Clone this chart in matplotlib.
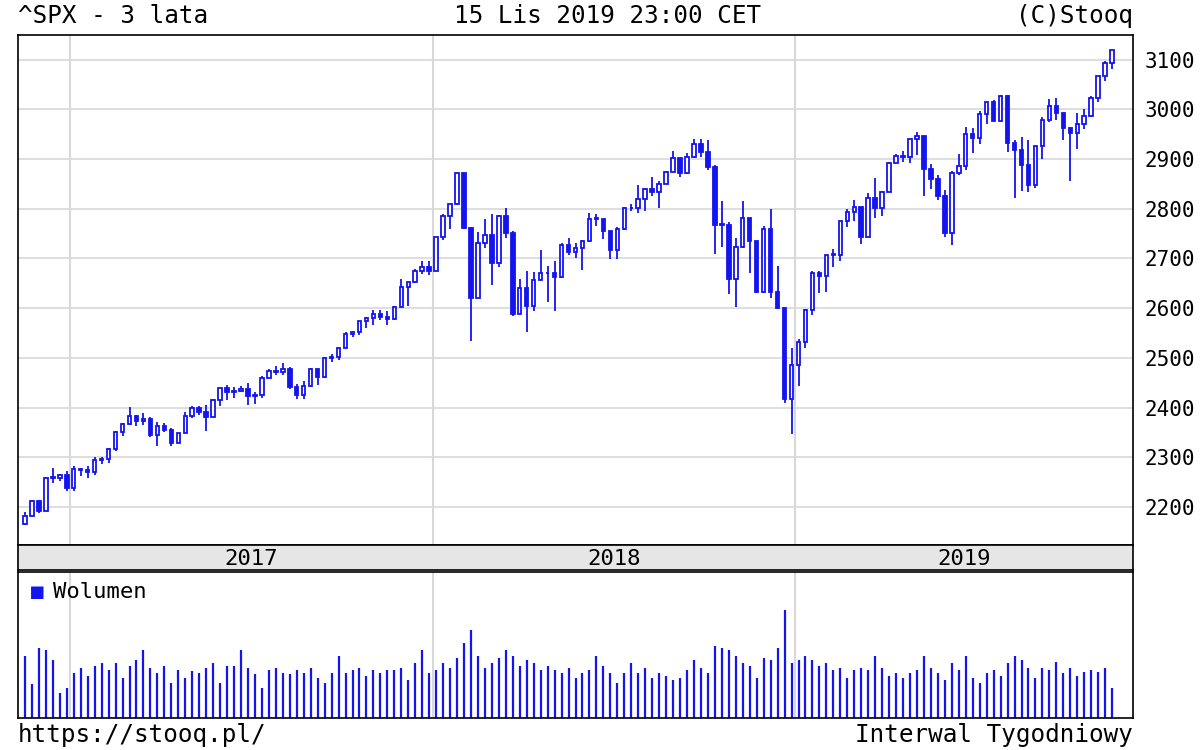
import matplotlib
matplotlib.use("Agg")
import matplotlib.pyplot as plt
import numpy as np

closes = [2182,2213,2192,2259,2258,2264,2239,
2277,2275,2271,2295,2297,2316,2351,2367,2383,2373,2378,2344,2363,2355,2329,2349,2384,2399,2391,2382,2416,2439,2432,2433,2438,2423,2425,2459,2473,2472,2477,2441,2426,2443,2477,2461,2500,2502,2519,2549,2553,2575,2581,2588,2582,2579,2602,2642,2652,2675,2683,2674,
2743,2786,2810,2873,2762,2620,2732,2747,2691,2786,2752,2588,2641,2604,2656,2670,2670,2663,2728,2713,2721,2735,2779,2780,2755,2718,2760,2801,2802,2819,2840,2833,2850,2875,2902,2872,2905,2930,2914,2885,2767,2768,2659,2723,2781,2736,2633,2760,2633,2600,2417,2486,
2532,2596,2671,2665,2707,2708,2776,2793,2804,2743,2822,2801,2834,2893,2907,2905,2940,2946,2881,2860,2826,2752,2873,2887,2950,2942,2990,3014,2977,3026,2932,2919,2889,2847,2926,2979,3007,2992,2962,2952,2970,2986,3023,3067,3093,3120]

opens = [2165,2182,2213,2192,2259,2258,2264,
2239,2277,2275,2271,2295,2297,2316,2351,2367,2383,2373,2378,2344,2363,2355,2329,2349,2384,2399,2391,2382,2416,2439,2432,2433,2438,2423,2425,2459,2473,2472,2477,2441,2426,2443,2477,2461,2500,2502,2519,2549,2553,2575,2581,2588,2582,2579,2602,2642,2652,2675,2683,
2674,2743,2786,2810,2873,2762,2620,2732,2747,2691,2786,2752,2588,2641,2604,2656,2670,2670,2663,2728,2713,2721,2735,2779,2780,2755,2718,2760,2801,2802,2819,2840,2833,2850,2875,2902,2872,2905,2930,2914,2885,2767,2768,2659,2723,2781,2736,2633,2760,2633,2600,2417,
2486,2532,2596,2671,2665,2707,2708,2776,2793,2804,2743,2822,2801,2834,2893,2907,2905,2940,2946,2881,2860,2826,2752,2873,2887,2950,2942,2990,3014,2977,3026,2932,2919,2889,2847,2926,2979,3007,2992,2962,2952,2970,2986,3023,3067,3093]

highs = [2189,2214,2214,2260,2278,2267,2273,
2282,2279,2282,2300,2300,2319,2352,2368,2401,2386,2390,2382,2370,2369,2358,2349,2391,2404,2404,2406,2418,2440,2446,2441,2443,2450,2431,2463,2477,2484,2490,2481,2448,2453,2480,2477,2501,2508,2520,2552,2555,2575,2582,2597,2597,2595,2605,2658,2652,2679,2695,2695,
2743,2790,2808,2873,2872,2764,2754,2780,2790,2787,2802,2755,2659,2675,2673,2718,2684,2694,2732,2742,2732,2737,2791,2790,2764,2746,2763,2804,2809,2848,2842,2864,2856,2876,2916,2903,2912,2941,2940,2939,2888,2816,2773,2741,2815,2775,2699,2765,2800,2685,2598,2520,
2538,2598,2675,2674,2708,2720,2776,2800,2817,2804,2831,2861,2836,2894,2910,2917,2940,2955,2931,2891,2868,2838,2876,2911,2964,2962,2996,3014,3018,3028,3028,2938,2944,2939,2927,2985,3021,3022,2987,2964,2993,3000,3027,3067,3097,3120]

lows = [2164,2181,2188,2191,2248,2253,2233,
2233,2262,2258,2264,2287,2289,2313,2342,2364,2363,2365,2341,2322,2351,2322,2328,2349,2379,2385,2353,2382,2403,2415,2419,2431,2405,2407,2420,2459,2465,2466,2437,2418,2417,2442,2446,2459,2492,2496,2519,2542,2546,2560,2566,2576,2566,2577,2602,2605,2650,2669,2667,
2682,2737,2759,2808,2759,2533,2622,2722,2647,2682,2741,2585,2594,2553,2594,2657,2612,2594,2660,2707,2701,2676,2734,2766,2740,2698,2698,2757,2795,2792,2796,2825,2802,2849,2876,2864,2871,2903,2904,2878,2710,2724,2628,2603,2722,2670,2631,2631,2621,2598,2409,2346,
2443,2519,2586,2631,2633,2682,2695,2764,2775,2729,2743,2781,2786,2834,2892,2894,2893,2909,2825,2840,2818,2744,2728,2868,2878,2912,2930,2970,2976,2977,2914,2822,2836,2834,2842,2900,2975,2978,2938,2855,2920,2960,2984,3015,3058,3082]

volumes = [62,34,70,68,58,25,30,
45,50,42,52,55,48,55,40,52,58,68,50,45,52,35,48,40,47,45,50,55,35,52,52,68,50,44,30,48,50,45,44,48,45,50,40,35,45,62,45,48,50,42,48,45,48,48,50,38,55,68,45,
48,55,50,60,75,88,62,50,55,60,68,62,52,58,55,48,52,48,45,50,40,45,48,62,52,45,35,45,55,45,50,40,45,42,38,40,48,58,50,45,72,70,68,62,55,52,40,60,58,70,108,55,
58,62,58,52,55,48,50,40,48,50,48,62,50,42,45,40,45,48,62,50,45,38,55,48,62,40,35,45,48,42,55,62,58,50,40,50,48,56,45,50,42,46,48,46,50,30]

years = ["2017", "2018", "2019"]
year_starts = [6.5, 58.5, 110.5]
price_ticks = [2200,2300,2400,2500,2600,2700,2800,2900,3000,3100]

n = len(closes)
assert len(opens) == n and len(highs) == n and len(lows) == n and len(volumes) == n

BLUE = "#1414f0"
GRID = "#d8d8d8"
MONO = "DejaVu Sans Mono"
W, H = 1200, 750
fig = plt.figure(figsize=(12, 7.5), dpi=100)

def fx(px): return px / W
def fy(py): return 1 - py / H

x = np.arange(n)
xl = (-1.0, 159.0)

ax = fig.add_axes([fx(18), fy(545), fx(1133 - 18), (545 - 35) / H])
ax.set_xlim(*xl)
ax.set_ylim(2123.5, 3149.7)
for yv in price_ticks:
    ax.axhline(yv, color=GRID, lw=1.2, zorder=0)
for xs in year_starts:
    ax.axvline(xs, color=GRID, lw=1.5, zorder=0)
ax.vlines(x, lows, highs, color=BLUE, lw=1.3, zorder=2)
o = np.array(opens); c = np.array(closes)
bottoms = np.minimum(o, c); heights = np.maximum(np.abs(c - o), 1.5)
up = c >= o
ax.bar(x[up], heights[up], bottom=bottoms[up], width=0.5, facecolor="white", edgecolor=BLUE, lw=1.3, zorder=3)
ax.bar(x[~up], heights[~up], bottom=bottoms[~up], width=0.5, facecolor=BLUE, edgecolor=BLUE, lw=1.3, zorder=3)
ax.yaxis.tick_right()
ax.set_yticks(price_ticks)
ax.set_yticklabels([str(v) for v in price_ticks], fontfamily=MONO, fontsize=15)
ax.tick_params(axis="y", length=0, pad=8)
ax.set_xticks([])
for s in ax.spines.values():
    s.set_color("black"); s.set_linewidth(1.2)

bx = fig.add_axes([fx(18), fy(570), fx(1133 - 18), 25 / H])
bx.set_xlim(*xl); bx.set_ylim(0, 1)
bx.set_facecolor("#e6e6e6")
bx.set_xticks([]); bx.set_yticks([])
ends = year_starts[1:] + [xl[1]]
for yr, s0, s1 in zip(years, year_starts, ends):
    bx.text((s0 + s1) / 2, 0.45, yr, ha="center", va="center", fontfamily=MONO, fontsize=16)
for s in bx.spines.values():
    s.set_color("black"); s.set_linewidth(1.2)

vx = fig.add_axes([fx(18), fy(718), fx(1133 - 18), (718 - 572) / H])
vx.set_xlim(*xl); vx.set_ylim(0, 146)
for xs in year_starts:
    vx.axvline(xs, color=GRID, lw=1.5, zorder=0)
vx.vlines(x, 0, volumes, color=BLUE, lw=1.6, zorder=2)
vx.set_xticks([]); vx.set_yticks([])
for s in vx.spines.values():
    s.set_color("black"); s.set_linewidth(1.2)
vx.text(0.012, 0.86, "■", transform=vx.transAxes, color=BLUE, fontsize=15, va="center", ha="left", fontfamily=MONO)
vx.text(0.031, 0.86, "Wolumen", transform=vx.transAxes, fontsize=16, va="center", ha="left", fontfamily=MONO)

fig.text(fx(18), fy(16), "^SPX - 3 lata", fontfamily=MONO, fontsize=17.5, va="center", ha="left")
fig.text(fx(608), fy(16), "15 Lis 2019 23:00 CET", fontfamily=MONO, fontsize=17.5, va="center", ha="center")
fig.text(fx(1133), fy(16), "(C)Stooq", fontfamily=MONO, fontsize=17.5, va="center", ha="right")
fig.text(fx(18), fy(735), "https://stooq.pl/", fontfamily=MONO, fontsize=17.5, va="center", ha="left")
fig.text(fx(1133), fy(735), "Interwal Tygodniowy", fontfamily=MONO, fontsize=17.5, va="center", ha="right")

fig.savefig("out.png", dpi=100, facecolor="white")
